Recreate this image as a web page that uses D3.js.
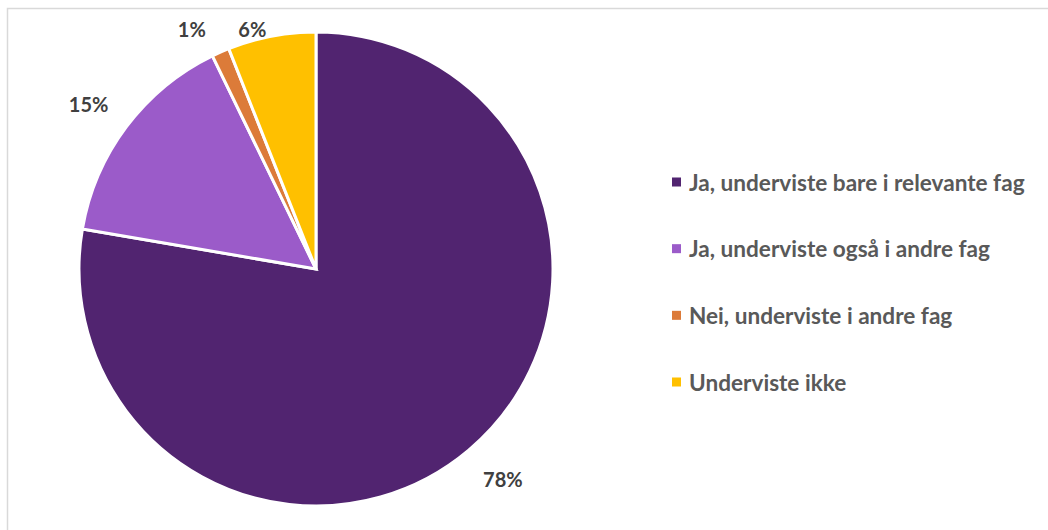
<!DOCTYPE html>
<html><head><meta charset="utf-8">
<script src="https://cdn.jsdelivr.net/npm/d3@7"></script>
<style>html,body{margin:0;padding:0;background:#fff;}svg{display:block;}</style>
</head><body>
<svg id="c" width="1048" height="530"></svg>
<script>
const categories = ["Ja, underviste bare i relevante fag","Ja, underviste også i andre fag","Nei, underviste i andre fag","Underviste ikke"];
const values = [77.7, 15.1, 1.2, 6.0];
const labels = ["78%","15%","1%","6%"];
const colors = ["#512470","#9b5bc9","#dc7b39","#ffc000"];

const svg = d3.select("#c");
const W = 1048, H = 530;
svg.append("rect").attr("x",7.5).attr("y",8.5).attr("width",W+10).attr("height",H+10)
  .attr("fill","#fff").attr("stroke","#d9d9d9").attr("stroke-width",1.5);

const cx = 316, cy = 269, r = 237;
const pie = d3.pie().value(d=>d).sort(null);
const arcs = pie(values);
const arc = d3.arc().innerRadius(0).outerRadius(r);
const g = svg.append("g").attr("transform",`translate(${cx},${cy})`);
g.selectAll("path").data(arcs).join("path")
  .attr("d",arc).attr("fill",(d,i)=>colors[i])
  .attr("stroke","#fff").attr("stroke-width",3).attr("stroke-linejoin","miter");

const font = "Lato, 'Open Sans', sans-serif";
const fs = 20;
const labelR = r + 30;
arcs.forEach((d,i)=>{
  const a = (d.startAngle+d.endAngle)/2;
  const s = Math.sin(a), c = -Math.cos(a);
  const t = g.append("text").text(labels[i])
    .attr("font-family",font).attr("font-weight",700).attr("font-size",fs)
    .attr("fill","#404040").attr("text-anchor","middle").attr("dominant-baseline","central");
  const bb = t.node().getBBox();
  let x = labelR*s + bb.width/2*s + 2;
  let y = labelR*c + 8*c;
  y = Math.max(y, 29 - cy);
  if (y <= 29 - cy + 0.01) x -= 13;
  t.attr("x",x).attr("y",y);
});

const leg = svg.append("g");
const ly = d3.scalePoint().domain(categories).range([182,382]);
categories.forEach((c,i)=>{
  const y = ly(c);
  leg.append("rect").attr("x",672).attr("y",y-4.5).attr("width",9).attr("height",9).attr("fill",colors[i]);
  leg.append("text").attr("x",689).attr("y",y).attr("dominant-baseline","central")
    .attr("font-family",font).attr("font-weight",700).attr("font-size",22.6)
    .attr("fill","#595959").text(c);
});
</script>
</body></html>
